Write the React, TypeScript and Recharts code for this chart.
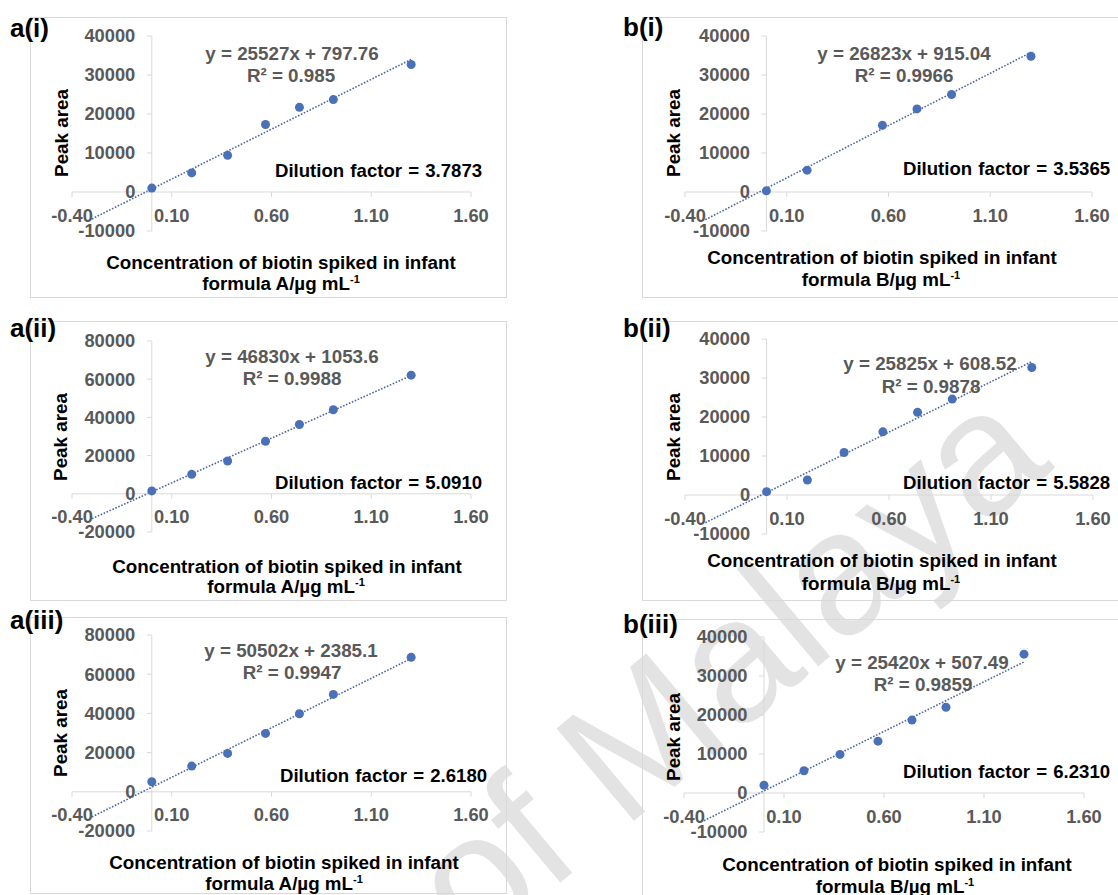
import React from "react";
import {
  ReferenceDot,
  ReferenceLine,
  Scatter,
  ScatterChart,
  XAxis,
  YAxis,
} from "recharts";

const FONT = '"Liberation Sans", Arial, Helvetica, sans-serif';
const AXIS = "#d9d9d9";
const TICK_TEXT = "#595959";
const DOT = "#4a70b8";
const TREND = "#4f68a4";

// Standard addition plots: x = biotin spiked (µg/mL), y = peak area.
const concA = [0, 0.2, 0.38, 0.57, 0.74, 0.91, 1.3];
const areaAi = [1000, 4900, 9400, 17300, 21700, 23700, 32700];
const areaAii = [1500, 10200, 17200, 27500, 36300, 44000, 62100];
const areaAiii = [5100, 13100, 19600, 29800, 39800, 49700, 68600];

const concBi = [0, 0.2, 0.57, 0.74, 0.91, 1.3];
const areaBi = [300, 5600, 17100, 21300, 25000, 34800];
const concB = [0, 0.2, 0.38, 0.57, 0.74, 0.91, 1.3];
const areaBii = [850, 3850, 10900, 16200, 21200, 24600, 32700];
const areaBiii = [2000, 5700, 9900, 13300, 18700, 22000, 35600];

// dotted trendline ends (forecast backward to -0.3, forward to the last point)
const trendX = [-0.3, 1.3];
const trendAi = [-6900, 34000];
const trendAii = [-13000, 61900];
const trendAiii = [-12800, 68000];
const trendBi = [-7100, 35800];
const trendBii = [-7100, 34200];
const trendBiii = [-7100, 33600];

const xTicks = [-0.4, 0.1, 0.6, 1.1, 1.6];
const yTicks40k = [-10000, 0, 10000, 20000, 30000, 40000];
const yTicks80k = [-20000, 0, 20000, 40000, 60000, 80000];

const panelLabels = ["a(i)", "b(i)", "a(ii)", "b(ii)", "a(iii)", "b(iii)"];
const equations = [
  "y = 25527x + 797.76",
  "y = 26823x + 915.04",
  "y = 46830x + 1053.6",
  "y = 25825x + 608.52",
  "y = 50502x + 2385.1",
  "y = 25420x + 507.49",
];
const rSquared = ["R² = 0.985", "R² = 0.9966", "R² = 0.9988", "R² = 0.9878", "R² = 0.9947", "R² = 0.9859"];
const dilution = ["3.7873", "3.5365", "5.0910", "5.5828", "2.6180", "6.2310"];
const formulas = ["A", "B", "A", "B", "A", "B"];

// page layout: box = panel frame, plot = x from -0.40 to 1.60, y from top tick to bottom tick
const panels = [
  {
    x: concA, y: areaAi, trend: trendAi, yTicks: yTicks40k,
    box: [30, 17, 507, 298], plot: [72, 36, 471, 231],
    label: [10, 37], eq: [292, 53], r2: [291, 75], dil: [275, 170], peak: [61, 133], xt1: [281, 262], xt2: [281, 283],
  },
  {
    x: concBi, y: areaBi, trend: trendBi, yTicks: yTicks40k,
    box: [642, 17, 1126, 298], plot: [685, 36, 1092, 231],
    label: [623, 36], eq: [904, 53], r2: [904, 75], dil: [903, 168], peak: [673, 133], xt1: [882, 257], xt2: [881, 279],
  },
  {
    x: concA, y: areaAii, trend: trendAii, yTicks: yTicks80k,
    box: [30, 321, 507, 601], plot: [72, 341, 471, 532],
    label: [10, 337], eq: [292, 356], r2: [292, 378], dil: [275, 482], peak: [60, 437], xt1: [287, 566], xt2: [286, 586],
  },
  {
    x: concB, y: areaBii, trend: trendBii, yTicks: yTicks40k,
    box: [642, 321, 1126, 601], plot: [685, 339, 1093, 534],
    label: [623, 337], eq: [930, 363], r2: [931, 386], dil: [903, 482], peak: [673, 437], xt1: [882, 560], xt2: [881, 583],
  },
  {
    x: concA, y: areaAiii, trend: trendAiii, yTicks: yTicks80k,
    box: [30, 617, 507, 894], plot: [72, 635, 471, 831],
    label: [10, 629], eq: [291, 650], r2: [292, 672], dil: [280, 775], peak: [60, 733], xt1: [284, 862], xt2: [284, 883],
  },
  {
    x: concB, y: areaBiii, trend: trendBiii, yTicks: yTicks40k,
    box: [642, 619, 1126, 900], plot: [684, 637, 1084, 832],
    label: [623, 633], eq: [922, 662], r2: [923, 684], dil: [903, 771], peak: [673, 737], xt1: [897, 864], xt2: [895, 886],
  },
];

const XTick = ({ cx, cy, label }: any) => (
  <g>
    <line x1={cx} y1={cy} x2={cx} y2={cy + 5} stroke={AXIS} />
    <text x={cx} y={cy + 29.5} textAnchor="middle" fill={TICK_TEXT} fontSize={18.3} fontWeight="bold" fontFamily={FONT}>
      {label}
    </text>
  </g>
);

const YTick = ({ cx, cy, label }: any) => (
  <g>
    <line x1={cx - 5} y1={cy} x2={cx} y2={cy} stroke={AXIS} />
    <text x={cx - 16.5} y={cy} dy="0.35em" textAnchor="end" fill={TICK_TEXT} fontSize={18.3} fontWeight="bold" fontFamily={FONT}>
      {label}
    </text>
  </g>
);

function Panel({ p }: { p: any }) {
  const [bl, bt, br, bb] = p.box;
  const [pl, pt, pr, pb] = p.plot;
  const w = br - bl;
  const h = bb - bt;
  const data = p.x.map((x: number, i: number) => ({ x, y: p.y[i] }));
  const yDomain = [p.yTicks[0], p.yTicks[p.yTicks.length - 1]];
  return (
    <div style={{ position: "absolute", left: bl, top: bt, width: w, height: h }}>
      <div style={{ position: "absolute", inset: 0, border: `1px solid ${AXIS}` }} />
      <ScatterChart
        width={w}
        height={h}
        margin={{ left: pl - bl, top: pt - bt, right: br - pr, bottom: bb - pb }}
      >
        <XAxis type="number" dataKey="x" domain={[-0.4, 1.6]} allowDataOverflow hide />
        <YAxis type="number" dataKey="y" domain={yDomain} allowDataOverflow hide />
        <ReferenceLine y={0} stroke={AXIS} ifOverflow="visible" />
        <ReferenceLine x={0} stroke={AXIS} ifOverflow="visible" />
        {xTicks.map((t) => (
          <ReferenceDot
            key={"x" + t}
            x={t}
            y={0}
            ifOverflow="visible"
            shape={(s: any) => <XTick {...s} label={t.toFixed(2)} />}
          />
        ))}
        {p.yTicks.map((t: number) => (
          <ReferenceDot
            key={"y" + t}
            x={0}
            y={t}
            ifOverflow="visible"
            shape={(s: any) => <YTick {...s} label={String(t)} />}
          />
        ))}
        <ReferenceLine
          segment={[
            { x: trendX[0], y: p.trend[0] },
            { x: trendX[1], y: p.trend[1] },
          ]}
          stroke={TREND}
          strokeWidth={1.6}
          strokeDasharray="1.6 1.6"
          ifOverflow="visible"
        />
        <Scatter
          data={data}
          fill={DOT}
          isAnimationActive={false}
          shape={(s: any) => <circle cx={s.cx} cy={s.cy} r={4.5} fill={DOT} />}
        />
      </ScatterChart>
    </div>
  );
}

function PanelText({ p, i }: { p: any; i: number }) {
  const bold = { fontFamily: FONT, fontWeight: "bold" as const };
  return (
    <g>
      <text x={p.label[0]} y={p.label[1]} fontSize={26} fill="#000" {...bold}>
        {panelLabels[i]}
      </text>
      <text x={p.eq[0]} y={p.eq[1]} dy="0.35em" textAnchor="middle" fontSize={18.8} fill={TICK_TEXT} {...bold}>
        {equations[i]}
      </text>
      <text x={p.r2[0]} y={p.r2[1]} dy="0.35em" textAnchor="middle" fontSize={18.8} fill={TICK_TEXT} {...bold}>
        {rSquared[i]}
      </text>
      <text x={p.dil[0]} y={p.dil[1]} dy="0.35em" fontSize={18.6} fill="#000" wordSpacing={1} {...bold}>
        {"Dilution factor = " + dilution[i]}
      </text>
      <text
        x={p.peak[0]}
        y={p.peak[1]}
        dy="0.35em"
        textAnchor="middle"
        fontSize={18.8}
        fill="#000"
        transform={`rotate(-90 ${p.peak[0]} ${p.peak[1]})`}
        {...bold}
      >
        Peak area
      </text>
      <text x={p.xt1[0]} y={p.xt1[1]} dy="0.35em" textAnchor="middle" fontSize={18.8} fill="#000" {...bold}>
        Concentration of biotin spiked in infant
      </text>
      <text x={p.xt2[0]} y={p.xt2[1]} dy="0.35em" textAnchor="middle" fontSize={18.8} fill="#000" {...bold}>
        <tspan>{`formula ${formulas[i]}/µg mL`}</tspan>
        <tspan dy="-7" fontSize={11}>-1</tspan>
      </text>
    </g>
  );
}

export default function App() {
  return (
    <div
      style={{
        position: "absolute",
        left: 0,
        top: 0,
        width: 1118,
        height: 895,
        overflow: "hidden",
        background: "#fff",
      }}
    >
      <svg width={1118} height={895} style={{ position: "absolute", left: 0, top: 0 }}>
        <text
          x={474}
          y={955}
          transform="rotate(-40 474 955)"
          fontSize={175}
          fill="#e3e3e3"
          fontFamily={FONT}
        >
          of Malaya
        </text>
      </svg>
      {panels.map((p, i) => (
        <Panel key={i} p={p} />
      ))}
      <svg width={1118} height={895} style={{ position: "absolute", left: 0, top: 0, pointerEvents: "none" }}>
        {panels.map((p, i) => (
          <PanelText key={i} p={p} i={i} />
        ))}
      </svg>
    </div>
  );
}
